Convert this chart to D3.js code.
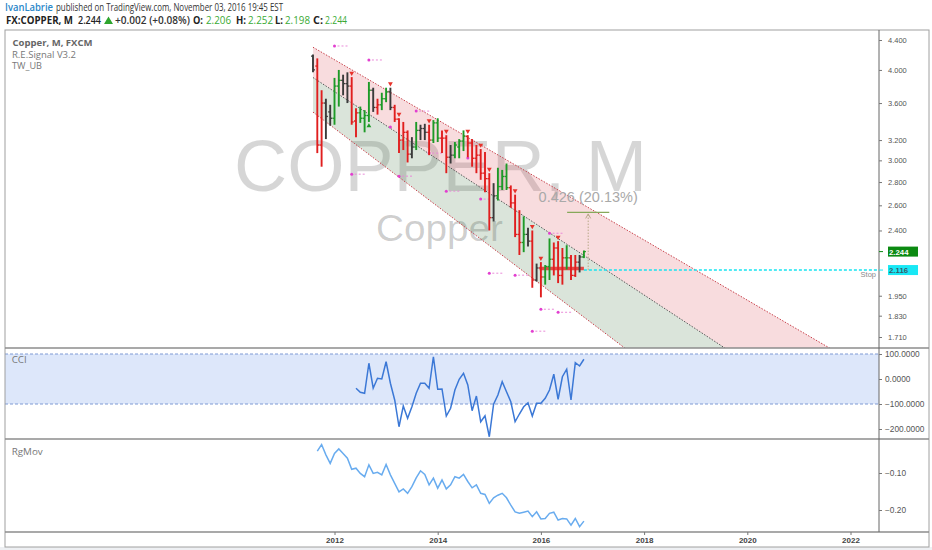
<!DOCTYPE html>
<html><head><meta charset="utf-8">
<script src="https://cdn.jsdelivr.net/npm/d3@7/dist/d3.min.js"></script>
<style>body{margin:0;background:#fff;overflow:hidden}svg{display:block}</style>
</head><body><svg id="c" width="932" height="550"></svg>
<script>
// ---------------- DATA ----------------
const firstBarYear = 2011 + 7/12; // Aug 2011, monthly bars
const open  = [4.18,4.05,3.15,3.60,3.50,3.43,3.80,3.87,3.83,3.80,3.40,3.49,3.43,3.46,3.75,3.55,3.58,3.65,3.73,3.55,3.42,3.20,3.28,3.06,3.13,3.30,3.32,3.28,3.20,3.38,3.22,3.22,3.03,3.05,3.13,3.19,3.24,3.17,3.02,3.05,2.88,2.83,2.50,2.68,2.76,2.85,2.75,2.62,2.37,2.31,2.37,2.32,2.05,2.13,2.07,2.14,2.19,2.27,2.08,2.20,2.20,2.08,2.17,2.206];
const high  = [4.20,4.15,3.75,3.65,3.58,3.90,4.00,3.94,3.97,3.91,3.54,3.56,3.52,3.85,3.78,3.65,3.72,3.78,3.78,3.58,3.43,3.39,3.30,3.23,3.39,3.36,3.37,3.36,3.41,3.43,3.30,3.25,3.15,3.18,3.21,3.30,3.25,3.21,3.15,3.11,3.08,2.88,2.79,2.93,2.91,2.97,2.77,2.69,2.56,2.51,2.42,2.40,2.16,2.17,2.15,2.34,2.31,2.32,2.27,2.29,2.22,2.22,2.22,2.252];
const low   = [3.97,3.07,2.94,3.21,3.35,3.36,3.56,3.69,3.60,3.36,3.23,3.38,3.28,3.39,3.50,3.47,3.52,3.61,3.52,3.39,3.07,3.10,2.98,3.02,3.10,3.20,3.20,3.05,3.17,3.18,3.07,2.88,2.97,3.02,3.02,3.09,3.03,2.94,2.88,2.82,2.71,2.40,2.47,2.64,2.73,2.73,2.58,2.35,2.22,2.24,2.28,2.00,2.04,1.94,2.02,2.05,2.08,2.03,2.02,2.12,2.05,2.07,2.10,2.198];
const close = [4.00,3.15,3.60,3.45,3.43,3.80,3.87,3.83,3.80,3.39,3.49,3.43,3.46,3.75,3.55,3.58,3.65,3.73,3.55,3.42,3.20,3.28,3.06,3.13,3.30,3.32,3.28,3.20,3.38,3.22,3.22,3.03,3.05,3.15,3.19,3.24,3.17,3.02,3.05,2.88,2.83,2.50,2.68,2.76,2.85,2.75,2.62,2.37,2.31,2.37,2.32,2.05,2.13,2.07,2.14,2.19,2.27,2.08,2.20,2.20,2.08,2.17,2.206,2.244];
const barSignal = "krrkkggkkrrgggkrggkrrrrkgkkrggrrkgggrrrrrrkgggrrrgkrkrggrrrgrrkg";
const sellMarks = [9,18,20,27,31,36,39,41,47,51,53,57];
const buyMarks  = [13];
const pinkDots  = [[5,4.317],[13,4.129],[9,2.871],[18,3.335],[20,2.853],[24,3.509],[27,3.070],[31,2.720],[36,3.022],[39,2.652],[41,2.095],[47,2.082],[55,2.379],[53,1.868],[57,1.850],[51,1.742]];
const pinkDashes = [3,3,3,0,3,3,3,3,0,2,3,3,3,3,3,3];
// regression channel: [year, price] endpoints (straight on log axis)
const chanUpper = [[2011.583,4.30],[2021.60,1.65]];
const chanMid   = [[2011.583,3.905],[2019.57,1.65]];
const chanLow   = [[2011.583,3.498],[2017.63,1.65]];
const stopPrice = 2.116, lastPrice = 2.244, measureTo = 2.542;
const stopZoneFrom = 52.7, stopZonePrice = 2.127;
const cciStart = 10;
const cci = [-37,-53,-57,63,-37,3,0,69,-17,-84,-191,-108,-157,-111,-57,-17,-17,-37,89,-41,-40,-148,-117,-44,-1,23,-24,-127,-68,-171,-147,-231,-101,-64,-11,-51,-91,-171,-140,-111,-95,-148,-97,-97,-77,-44,19,-81,9,39,-84,65,52,79];
const rgStart = 1;
const rgMov = [-0.041,-0.023,-0.051,-0.074,-0.047,-0.035,-0.047,-0.060,-0.090,-0.087,-0.101,-0.110,-0.078,-0.101,-0.098,-0.105,-0.077,-0.105,-0.128,-0.151,-0.143,-0.155,-0.137,-0.113,-0.094,-0.104,-0.132,-0.114,-0.141,-0.119,-0.143,-0.132,-0.110,-0.114,-0.104,-0.123,-0.140,-0.132,-0.155,-0.158,-0.182,-0.167,-0.160,-0.155,-0.167,-0.187,-0.205,-0.209,-0.206,-0.203,-0.218,-0.205,-0.224,-0.223,-0.209,-0.206,-0.227,-0.223,-0.224,-0.241,-0.223,-0.245,-0.230];
const priceTicks = [4.4,4.0,3.6,3.2,3.0,2.8,2.6,2.4,1.95,1.83,1.71];
const cciTicks = [100,0,-100,-200];
const rgTicks = [-0.10,-0.20];
const yearTicks = [2012,2014,2016,2018,2020,2022];
const quote = {o:"2.206",h:"2.252",l:"2.198",c:"2.244",last:"2.244",chg:"+0.002 (+0.08%)"};

// ---------------- LAYOUT ----------------
const L=5, R=879, FR=929, T=30, mainBot=348, cciBot=439, rgBot=532, axBot=547;
const svg = d3.select('#c');
const yearOf = i => firstBarYear + i/12;
const x = d3.scaleLinear().domain([2012,2022]).range([334.5,850.5]);
const xi = i => x(yearOf(i));
const yP = d3.scaleLog().domain([4.4,1.71]).range([40,337]);
const yC = d3.scaleLinear().domain([100,-200]).range([354,429]);
const yR = d3.scaleLinear().domain([-0.10,-0.20]).range([473,510]);
const defs = svg.append('defs');
function clip(id,x0,y0,x1,y1){defs.append('clipPath').attr('id',id).append('rect').attr('x',x0).attr('y',y0).attr('width',x1-x0).attr('height',y1-y0);}
clip('cm',L,T,R,mainBot); clip('cc',L,mainBot,R,cciBot); clip('cr',L,cciBot,R,rgBot);

svg.append('rect').attr('x',0).attr('y',axBot).attr('width',932).attr('height',550-axBot).attr('fill','#eef0f3');

// header
const hf = "'Open Sans','Noto Sans',sans-serif";
function ht(s,x0,w,y,fill,weight,size){svg.append('text').attr('x',x0).attr('y',y).attr('textLength',w).attr('lengthAdjust','spacingAndGlyphs')
  .attr('font-family',hf).attr('font-size',size||10).attr('font-weight',weight||400).attr('fill',fill).text(s);}
ht('IvanLabrie',5,48,10.8,'#2b87c9',600);
ht('published on TradingView.com, November 03, 2016 19:45 EST',56,227,10.8,'#333');
ht('FX:COPPER, M',6,67,24,'#222',700);
ht(quote.last,78,23,24,'#222',600);
svg.append('path').attr('d','M104,24 L113,24 L108.5,16.5 Z').attr('fill','#2ea52e');
ht(quote.chg,115,75,24,'#333',600);
const green='#3aaa35';
ht('O:',193,10,24,'#222',700); ht(quote.o,206,25,24,green,400);
ht('H:',236,10,24,'#222',700); ht(quote.h,248,25,24,green,400);
ht('L:',275,8,24,'#222',700); ht(quote.l,285,25,24,green,400);
ht('C:',313,10,24,'#222',700); ht(quote.c,325,22,24,green,400);

// ---------------- MAIN PANE ----------------
const gm = svg.append('g').attr('clip-path','url(#cm)');
// watermark
gm.append('text').attr('x',234).attr('y',191).attr('textLength',413).attr('lengthAdjust','spacingAndGlyphs').attr('font-family','Liberation Sans, Arial, sans-serif')
  .attr('font-size',72).attr('fill','rgba(0,0,0,0.16)').text('COPPER, M');
gm.append('text').attr('x',376).attr('y',241).attr('textLength',127).attr('lengthAdjust','spacingAndGlyphs').attr('font-family','Liberation Sans, Arial, sans-serif')
  .attr('font-size',37).attr('fill','rgba(0,0,0,0.2)').text('Copper');
// channel
function onLine(line,t){const [a,b]=line;const la=Math.log(a[1]),lb=Math.log(b[1]);return Math.exp(la+(lb-la)*(t-a[0])/(b[0]-a[0]));}
const t0=chanUpper[0][0], t1=2023.2;
const pt = (line,t)=>[x(t),yP(onLine(line,t))];
gm.append('path').attr('d',d3.line()([pt(chanUpper,t0),pt(chanUpper,t1),pt(chanMid,t1),pt(chanMid,t0)])+'Z').attr('fill','rgba(222,95,105,0.22)');
gm.append('path').attr('d',d3.line()([pt(chanMid,t0),pt(chanMid,t1),pt(chanLow,t1),pt(chanLow,t0)])+'Z').attr('fill','rgba(95,140,95,0.23)');
[[chanUpper,'#c8414b'],[chanMid,'#555'],[chanLow,'#c8414b']].forEach(([ln,c])=>{
  gm.append('path').attr('d',d3.line()([pt(ln,t0),pt(ln,t1)])).attr('stroke',c).attr('stroke-width',1).attr('stroke-dasharray','1.5,1.5').attr('fill','none');
});
// stop line & zone
gm.append('line').attr('x1',xi(63)).attr('x2',R).attr('y1',yP(stopPrice)).attr('y2',yP(stopPrice)).attr('stroke','#17e3f0').attr('stroke-width',1.6).attr('stroke-dasharray','3,2');
gm.append('line').attr('x1',xi(stopZoneFrom)).attr('x2',xi(63)).attr('y1',yP(stopZonePrice)).attr('y2',yP(stopZonePrice)).attr('stroke','#e53030').attr('stroke-width',3.5).attr('opacity',0.85);
svg.append('text').attr('x',876).attr('y',yP(stopPrice)+7).attr('text-anchor','end').attr('font-family','Liberation Sans, Arial').attr('font-size',7.5).attr('fill','#8a8a8a').text('Stop');
// measure tool
const mx = xi(64);
gm.append('line').attr('x1',xi(59.1)).attr('x2',xi(68.9)).attr('y1',yP(measureTo)).attr('y2',yP(measureTo)).attr('stroke','#86a85a').attr('stroke-width',1.2);
gm.append('line').attr('x1',mx).attr('x2',mx).attr('y1',yP(stopPrice)).attr('y2',yP(measureTo)+2).attr('stroke','#b8a888').attr('stroke-width',1).attr('stroke-dasharray','1.5,1.5');
gm.append('path').attr('d',`M${mx-2.5},${yP(measureTo)+6} L${mx},${yP(measureTo)+1.5} L${mx+2.5},${yP(measureTo)+6}`).attr('stroke','#b8a888').attr('fill','none').attr('stroke-width',1);
const diff = (measureTo-stopPrice), pct = diff/stopPrice*100;
gm.append('text').attr('x',mx).attr('y',yP(measureTo)-10).attr('text-anchor','middle').attr('font-family','Liberation Sans, Arial').attr('font-size',14.5)
  .attr('fill','#a9a9a9').text(`${diff.toFixed(3)} (${pct.toFixed(2)}%)`);
// pink dotted markers
pinkDots.forEach(([i,p],k)=>{
  const cx=xi(i), cy=yP(p);
  gm.append('circle').attr('cx',cx).attr('cy',cy).attr('r',1.5).attr('fill','#e23fd0');
  if(pinkDashes[k]>0) gm.append('line').attr('x1',cx+3).attr('x2',cx+3+pinkDashes[k]*4-1).attr('y1',cy).attr('y2',cy).attr('stroke','#e98ad8').attr('stroke-width',1).attr('stroke-dasharray','2,2');
});
// bars
const colMap={r:'#e01e1e',g:'#1d9a27',k:'#3b3b3b'};
const bars = open.map((o,i)=>({i,o,h:high[i],l:low[i],c:close[i],k:barSignal[i]}));
const gb = gm.append('g');
bars.forEach(d=>{
  const cx=xi(d.i), col=colMap[d.k];
  gb.append('line').attr('x1',cx).attr('x2',cx).attr('y1',yP(d.h)).attr('y2',yP(d.l)).attr('stroke',col).attr('stroke-width',1.9);
  gb.append('line').attr('x1',cx-2).attr('x2',cx).attr('y1',yP(d.o)).attr('y2',yP(d.o)).attr('stroke',col).attr('stroke-width',1.3);
  gb.append('line').attr('x1',cx).attr('x2',cx+2).attr('y1',yP(d.c)).attr('y2',yP(d.c)).attr('stroke',col).attr('stroke-width',1.3);
});
const tri = d3.symbol().type(d3.symbolTriangle).size(10);
sellMarks.forEach(i=>gm.append('path').attr('d',tri()).attr('transform',`translate(${xi(i)},${yP(high[i])-4}) rotate(180)`).attr('fill','#e8322a'));
buyMarks.forEach(i=>gm.append('path').attr('d',tri()).attr('transform',`translate(${xi(i)},${yP(low[i])+4})`).attr('fill','#1d9a27'));

// ---------------- CCI PANE ----------------
const gc = svg.append('g').attr('clip-path','url(#cc)');
gc.append('rect').attr('x',L).attr('width',R-L).attr('y',yC(100)).attr('height',yC(-100)-yC(100)).attr('fill','#dde7fa');
[100,-100].forEach(v=>gc.append('line').attr('x1',L).attr('x2',R).attr('y1',yC(v)).attr('y2',yC(v)).attr('stroke','#7f9ad4').attr('stroke-width',1).attr('stroke-dasharray','3,2'));
gc.append('path').datum(cci).attr('d',d3.line().x((v,k)=>xi(cciStart+k)).y(v=>yC(v))).attr('fill','none').attr('stroke','#3b78d6').attr('stroke-width',1.5);

// ---------------- RgMov PANE ----------------
const gr = svg.append('g').attr('clip-path','url(#cr)');
gr.append('path').datum(rgMov).attr('d',d3.line().x((v,k)=>xi(rgStart+k)).y(v=>yR(v))).attr('fill','none').attr('stroke','#69acef').attr('stroke-width',1.5);

// ---------------- FRAME & AXES ----------------
const fc='#8c8c8c';
svg.append('rect').attr('x',L).attr('y',T).attr('width',FR-L).attr('height',axBot-T).attr('fill','none').attr('stroke','#a0a0a0').attr('stroke-width',1);
[mainBot,cciBot,rgBot].forEach(yy=>svg.append('line').attr('x1',L).attr('x2',FR).attr('y1',yy).attr('y2',yy).attr('stroke',fc).attr('stroke-width',1.3));
svg.append('line').attr('x1',R).attr('x2',R).attr('y1',T).attr('y2',rgBot).attr('stroke','#666').attr('stroke-width',1);

function styleAxis(g,size,fill,weight){g.select('.domain').remove();g.selectAll('.tick line').attr('stroke','#777');
  g.selectAll('.tick text').attr('font-family','Liberation Sans, Arial, sans-serif').attr('font-size',size).attr('fill',fill).attr('font-weight',weight||400);}
const ap = svg.append('g').attr('transform',`translate(${R},0)`).call(d3.axisRight(yP).tickValues(priceTicks).tickFormat(d3.format('.3f')).tickSize(3).tickPadding(6));
styleAxis(ap,7.5,'#555');
const ac = svg.append('g').attr('transform',`translate(${R},0)`).call(d3.axisRight(yC).tickValues(cciTicks).tickFormat(d3.format('.4f')).tickSize(3).tickPadding(3));
styleAxis(ac,8.3,'#555');
const ar = svg.append('g').attr('transform',`translate(${R},0)`).call(d3.axisRight(yR).tickValues(rgTicks).tickFormat(d3.format('.2f')).tickSize(3).tickPadding(3));
styleAxis(ar,8.3,'#555');
const ax = svg.append('g').attr('transform',`translate(0,${rgBot})`).call(d3.axisBottom(x).tickValues(yearTicks).tickFormat(d3.format('d')).tickSize(3).tickPadding(2));
styleAxis(ax,8,'#444',700);

// price badges
function badge(p,bg,fg){const yy=yP(p);
  svg.append('line').attr('x1',R).attr('x2',R+4).attr('y1',yy).attr('y2',yy).attr('stroke',bg);
  svg.append('rect').attr('x',R+9).attr('y',yy-5).attr('width',30).attr('height',10).attr('fill',bg);
  svg.append('text').attr('x',R+10).attr('y',yy+3).attr('font-family','Liberation Sans, Arial').attr('font-size',7.8).attr('font-weight',700).attr('fill',fg).text(p.toFixed(3));}
badge(lastPrice,'#0b8a12','#fff');
badge(stopPrice,'#18e8f5','#3a5a6a');

// pane legends
const lf="'Open Sans','Noto Sans',sans-serif";
function lt(s,x0,y,w,weight,fill){svg.append('text').attr('x',x0).attr('y',y).attr('textLength',w).attr('lengthAdjust','spacingAndGlyphs').attr('font-family',lf).attr('font-size',9).attr('font-weight',weight).attr('fill',fill).text(s);}
lt('Copper, M, FXCM',12.5,46,80,700,'#666');
lt('R.E.Signal V3.2',12,57.5,64,400,'#777');
lt('TW_UB',12,68.5,30,400,'#777');
lt('CCI',11.7,363,15,400,'#777');
lt('RgMov',11.7,455,31,400,'#777');
</script></body></html>
